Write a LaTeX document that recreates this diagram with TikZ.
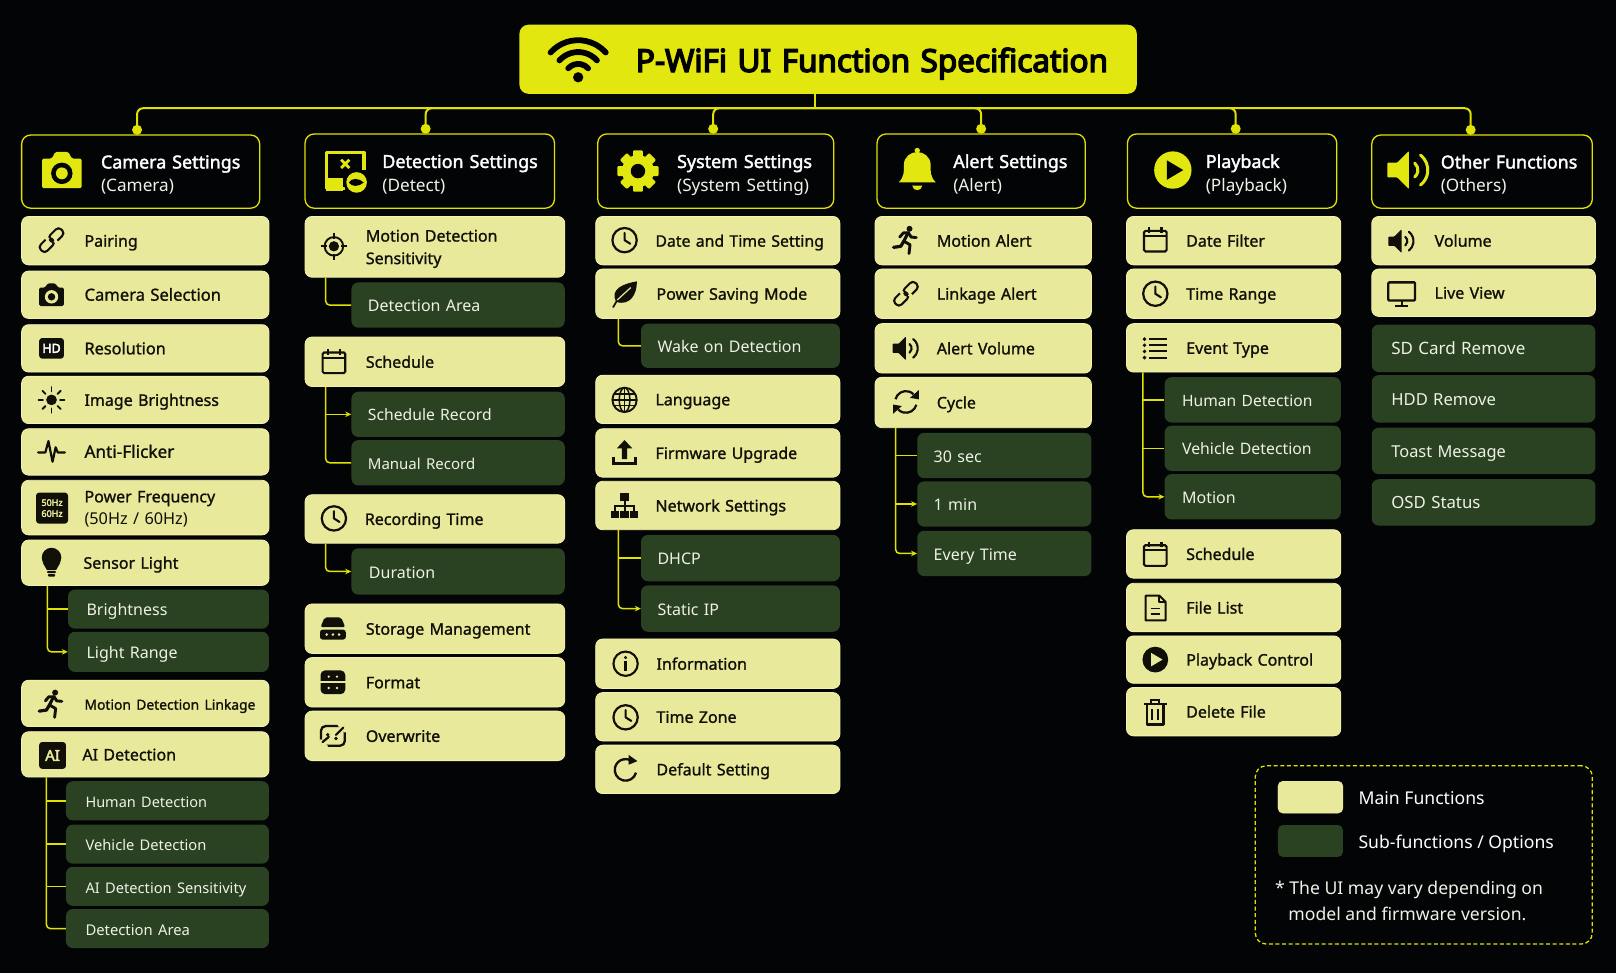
\documentclass[tikz,border=0pt]{standalone}
\usepackage{fontspec}
\usetikzlibrary{arrows.meta,calc}
\setmainfont{Noto Sans}
\newfontfamily\medf[FakeBold=1.2]{Noto Sans}
\newfontfamily\semif[FakeBold=2]{Noto Sans}
\newfontfamily\boldf[FakeBold=3]{Noto Sans}
\newfontfamily\titlef[FakeBold=4.5]{Noto Sans}
\definecolor{bgc}{HTML}{030406}
\definecolor{ylw}{HTML}{E2E80F}
\definecolor{linec}{HTML}{E0E200}
\definecolor{mainc}{HTML}{E9E99B}
\definecolor{mainedge}{HTML}{F3F3AE}
\definecolor{subc}{HTML}{2A4221}
\definecolor{subt}{HTML}{EEF2E6}
\definecolor{inkc}{HTML}{101008}
\def\U{1.0306}
\tikzset{
 x=1.0306pt,y=-1.0306pt,
 rowbase/.style={rectangle,rounded corners=7pt,inner xsep=0pt,inner ysep=0pt,align=left},
 mainbox/.style={rowbase,fill=mainc,draw=mainedge,line width=.8pt,text=inkc,font=\medf\fontsize{16}{22.5}\selectfont},
 subbox/.style={rowbase,fill=subc,text=subt,font=\fontsize{16}{22}\selectfont},
 headbox/.style={rowbase,draw=linec,line width=1.3pt,fill=bgc,text=white,rounded corners=9pt,font=\fontsize{17.9}{23.5}\selectfont},
 titlebox/.style={rowbase,fill=ylw,text=black,rounded corners=9pt,font=\titlef\fontsize{31.5}{36}\selectfont},
 conn/.style={draw=linec,line width=1.5pt,rounded corners=4pt},
 arr/.style={conn,-{Stealth[length=6pt,width=5.5pt]}},
 busline/.style={draw=linec,line width=2pt,rounded corners=6pt},
 busdot/.style={circle,fill=linec,minimum size=10pt,inner sep=0pt},
 legendbox/.style={rectangle,draw=linec,line width=1.3pt,dash pattern=on 4pt off 2.6pt,rounded corners=11pt,inner sep=0pt},
 swatch/.style={rowbase,inner sep=0pt,rounded corners=5pt},
 legtext/.style={text=white,anchor=west,inner sep=0pt,font=\fontsize{17.6}{22}\selectfont},
 % ---------- icons
 icCam/.pic={\fill[rounded corners=1.5pt] (-12,-7)--(-6,-7)--(-4,-11)--(4,-11)--(6,-7)--(12,-7)--(12,11)--(-12,11)--cycle;
   \fill[cutc] (0,2) circle (6.5); \fill (0,2) circle (3.6);},
 icLink/.pic={\begin{scope}[rotate=45,line width=2.1pt]
   \draw[rounded corners=3.8pt] (-1,-4.4) rectangle (14,4.4);
   \draw[rounded corners=3.8pt] (-14,-4.4) rectangle (1,4.4);
   \draw[cutc,line width=3.4pt] (-2,-6) -- (-2,-2.5);\draw[cutc,line width=3.4pt] (2,6) -- (2,2.5);
   \end{scope}},
 icHD/.pic={\fill[rounded corners=3pt] (-12,-10) rectangle (12,10);
   \node[text=white,font=\boldf\fontsize{12.5}{13}\selectfont,inner sep=0pt] (hdtext) at (0,0) {HD};},
 icSun/.pic={\fill (0,0) circle (5.2);
   \foreach \a in {0,45,...,315}{\draw[line width=1.9pt,line cap=round] (\a:8.3)--(\a:12.5);}},
 icPulse/.pic={\draw[line width=2.2pt,line join=round,line cap=round] (-13,1)--(-6,1)--(-3,-10)--(1,10)--(4,-4)--(6,1)--(13,1);},
 icBulb/.pic={\fill (0,-5) circle (9.5); \fill (-8.5,0)--(-4.5,7)--(4.5,7)--(8.5,0)--cycle;
   \fill[rounded corners=1pt] (-4.5,8) rectangle (4.5,10);\fill[rounded corners=1pt] (-3.5,11) rectangle (3.5,13.5);},
 icRun/.pic={\fill (3.5,-11) circle (2.9);
   \draw[line width=2.9pt,line join=round,line cap=round] (-6,-3)--(-2.5,-7)--(2.5,-7)--(5,-3)--(10,-2.5);
   \draw[line width=3.2pt,line join=round,line cap=round] (2,-7)--(-2,1)--(-5,6)--(-12,7);
   \draw[line width=2.9pt,line join=round,line cap=round] (-2,1)--(4,4.5)--(3,13);},
 icTarget/.pic={\draw[line width=1.9pt] (0,0) circle (9); \fill (0,0) circle (5);
   \draw[line width=1.9pt] (0,-13)--(0,-7) (0,13)--(0,7) (-13,0)--(-7,0) (13,0)--(7,0);},
 icCal/.pic={\draw[line width=2.1pt,rounded corners=1.5pt] (-11,-9) rectangle (11,11);
   \draw[line width=2.1pt] (-11,-4)--(11,-4);
   \draw[line width=2.1pt] (-6,-12.5)--(-6,-7) (6,-12.5)--(6,-7);},
 icClock/.pic={\draw[line width=2.2pt] (0,0) circle (11.8);
   \draw[line width=2.1pt,line join=round,line cap=round] (0,-7)--(0,0)--(5.5,3.5);},
 icStore/.pic={\fill[rounded corners=2pt] (-8,-11)--(8,-11)--(12,-1.5)--(-12,-1.5)--cycle;
   \fill[rounded corners=2.5pt] (-12.5,1) rectangle (12.5,10.5);
   \foreach \p in {-6,0,6}{\fill[cutc] (\p,5.7) circle (1.4);}},
 icFormat/.pic={\fill[rounded corners=4.5pt] (-12,-11.5) rectangle (12,11.5);
   \draw[cutc,line width=1.6pt] (-13,0)--(13,0);
   \foreach \p in {-4,4}{\fill[cutc] (\p,-5.5) circle (1.3);\fill[cutc] (\p,5.5) circle (1.3);}},
 icOver/.pic={\draw[line width=2.3pt,rounded corners=4.5pt] (-11.5,-9.5) rectangle (11.5,9.5);
   \draw[cutc,line width=4pt] (6,-11.5)--(13,-4.5); \draw[cutc,line width=4pt] (-6,11.5)--(-13,4.5);
   \draw[line width=2.2pt,line cap=round] (3,-1)--(10,-8); \fill (3,2.5) circle (1.8);
   \fill (-5,-1) circle (1.8); \draw[line width=2.2pt,line cap=round] (-4,1)--(-10,6);},
 icLeaf/.pic={\fill (-8,8) .. controls (-15,-5) and (0,-10) .. (12,-12) .. controls (12,0) and (6,12) .. (-8,8) -- cycle;
   \draw[line width=1.7pt,line cap=round] (-11,13)--(-7,6);
   \draw[cutc,line width=1.2pt] (-7,6)--(6,-6);},
 icGlobe/.pic={\draw[line width=1.9pt] (0,0) circle (11.8);
   \draw[line width=1.5pt] (0,0) ellipse (5.2 and 11.8);
   \draw[line width=1.5pt] (0,-11.8)--(0,11.8) (-11.8,0)--(11.8,0) (-10.2,-5.6)--(10.2,-5.6) (-10.2,5.6)--(10.2,5.6);},
 icUp/.pic={\fill (0,-13)--(7.5,-5)--(2.6,-5)--(2.6,5.5)--(-2.6,5.5)--(-2.6,-5)--(-7.5,-5)--cycle;
   \draw[line width=2.8pt] (-10.5,3)--(-10.5,10)--(10.5,10)--(10.5,3);},
 icNet/.pic={\fill (-4,-12.5) rectangle (4,-5); \fill (-13,4.5) rectangle (-5,12); \fill (-4,4.5) rectangle (4,12); \fill (5,4.5) rectangle (13,12);
   \draw[line width=2pt] (0,-5)--(0,4.5) (-9,4.5)--(-9,-0.5)--(9,-0.5)--(9,4.5);},
 icInfo/.pic={\draw[line width=2.1pt] (0,0) circle (11.8); \fill (0,-6) circle (1.6); \fill (-1.3,-2.5) rectangle (1.3,7);},
 icReset/.pic={\draw[line width=2.3pt] (15:10.5) arc[start angle=15,end angle=305,radius=10.5];
   \fill (3,-14.5)--(11.5,-8.5)--(3,-5)--cycle;},
 icCycle/.pic={\draw[line width=2.2pt] (195:10.5) arc[start angle=195,end angle=315,radius=10.5];
   \draw[line width=2.2pt] (15:10.5) arc[start angle=15,end angle=135,radius=10.5];
   \fill (12.5,-11.5)--(12.5,-2.5)--(4,-4)--cycle; \fill (-12.5,11.5)--(-12.5,2.5)--(-4,4)--cycle;},
 icSpeak/.pic={\fill[rounded corners=.8pt] (-13,-4.5)--(-7,-4.5)--(0,-11.5)--(0,11.5)--(-7,4.5)--(-13,4.5)--cycle;
   \draw[line width=#1pt,line cap=round] (-50:5.5) arc[start angle=-50,end angle=50,radius=5.5];
   \draw[line width=#1pt,line cap=round] (-52:11.5) arc[start angle=-52,end angle=52,radius=11.5];},
 icMon/.pic={\draw[line width=2.3pt,rounded corners=1pt] (-13,-11) rectangle (13,6.5);
   \draw[line width=2.3pt] (0,6.5)--(0,11.5); \draw[line width=2.3pt] (-6,12)--(6,12);},
 icList/.pic={\foreach \q in {-9,-3,3,9}{\fill (-10.5,\q) circle (1.9); \draw[line width=1.9pt] (-6,\q)--(11.5,\q);}},
 icDoc/.pic={\draw[line width=2pt,line join=round] (-9.5,-12)--(4,-12)--(10,-6)--(10,12)--(-9.5,12)--cycle;
   \draw[line width=2pt,line join=round] (4,-12)--(4,-6)--(10,-6);
   \draw[line width=1.8pt] (-4.5,0.5)--(5,0.5) (-4.5,5.5)--(5,5.5);},
 icPlay/.pic={\fill (0,0) circle (12.5); \fill[cutc] (-4,-6.5)--(7,0)--(-4,6.5)--cycle;},
 icTrash/.pic={\draw[line width=2.1pt] (-11,-8)--(11,-8);
   \draw[line width=2pt] (-4,-8)--(-4,-12)--(4,-12)--(4,-8);
   \draw[line width=2.2pt,line join=round] (-8,-8)--(-8,12)--(8,12)--(8,-8);
   \draw[line width=2pt] (-2.8,-3)--(-2.8,8) (2.8,-3)--(2.8,8);},
 icBell/.pic={\fill (0,-19) circle (2.6);
   \fill (-18,12) .. controls (-12,6) and (-13,0) .. (-13,-5) .. controls (-13,-13) and (-6,-17.5) .. (0,-17.5) .. controls (6,-17.5) and (13,-13) .. (13,-5) .. controls (13,0) and (12,6) .. (18,12) -- cycle;
   \fill (-5,15) .. controls (-4,21) and (4,21) .. (5,15) -- cycle;},
 icGear/.pic={\foreach \a in {0,45,...,315}{\fill[rotate=\a,rounded corners=1pt] (-4.8,-20) rectangle (4.8,0);}
   \fill (0,0) circle (15.5); \fill[cutc] (0,0) circle (7);},
 icDetect/.pic={\draw[line width=3.4pt,line join=round] (18,-1)--(18,-18)--(-18,-18)--(-18,17)--(0,17);
   \fill (-19,7) rectangle (-2,19);
   \draw[line width=2.8pt] (-4,-11)--(4,-3) (-4,-3)--(4,-11);
   \fill[cutc] (11,11) circle (12.5); \fill (11,11) circle (10);
   \fill[cutc] (3.5,11) .. controls (6,6.5) and (13,6.5) .. (18,11) .. controls (13,15.5) and (6,15.5) .. (3.5,11) -- cycle;},
 icWifi/.pic={\foreach \r in {13,24.5,36}{\draw[line width=5.8pt,line cap=round] (0,15)++(222:\r) arc[start angle=222,end angle=318,radius=\r];}
   \fill (0,15) circle (5);},
}
% #1 style #2 name #3 x1 #4 y1 #5 x2 #6 y2 #7 text x #8 text
\newcommand{\rowbox}[8]{%
 \pgfmathsetmacro\bw{(#5-#3)*\U}\pgfmathsetmacro\bh{(#6-#4)*\U}\pgfmathsetmacro\lp{(#7-#3)*\U}%
 \pgfmathsetmacro\cx{(#3+#5)/2}\pgfmathsetmacro\cy{(#4+#6)/2}%
 \node[#1,text width=\bw pt,minimum height=\bh pt] (#2) at (\cx,\cy)
  {\leftskip=\lp pt\relax\vrule height .95em width 0pt #8\vrule depth .25em width 0pt\par};}
\newcommand{\mi}[7]{\rowbox{mainbox}{#1}{#2}{#3}{#4}{#5}{#6}{\vrule height 1.0em width 0pt #7}}
\newcommand{\si}[7]{\rowbox{subbox}{#1}{#2}{#3}{#4}{#5}{#6}{\vrule height 1.08em width 0pt #7}}
\newcommand{\fs}[1]{\fontsize{#1}{16}\selectfont}
% item icons / header icons
\newcommand{\ici}[3]{{\colorlet{ink}{inkc}\colorlet{cutc}{mainc}\pic[color=ink] at (#2,#3) {#1};}}
\newcommand{\ich}[4]{{\colorlet{ink}{ylw}\colorlet{cutc}{bgc}\pic[color=ink,scale=#4] at (#2,#3) {#1};}}
\newcommand{\hb}[8]{\rowbox{headbox}{#1}{#2}{#3}{#4}{#5}{#6}{\vrule height 1.21em width 0pt {\semif #7}\\{\color{subt}\fontsize{17.2}{23.5}\selectfont #8}}}
\begin{document}
\begin{tikzpicture}
\useasboundingbox (0,0) rectangle (1568,944);
\fill[bgc] (0,0) rectangle (1568,944);
% title
\rowbox{titlebox}{title}{504}{24}{1103}{91}{617}{\vrule height 1.05em width 0pt P-WiFi UI Function Specification}
{\colorlet{ink}{black}\colorlet{cutc}{ylw}\pic[color=ink] at (561,60) {icWifi};}
% bus
\coordinate (busC) at (791,105);
\node[busdot] (dot1) at (133,126) {};
\node[busdot] (dot2) at (413,125) {};
\node[busdot] (dot3) at (692,125) {};
\node[busdot] (dot4) at (952,125) {};
\node[busdot] (dot5) at (1199,125) {};
\node[busdot] (dot6) at (1427,126) {};
\draw[busline] (title.south -| busC) -- (busC);
\foreach \d in {dot1,dot2,dot3,dot4,dot5,dot6}{\draw[busline] (busC) -| (\d.center);}
% headers
\hb{h1}{21}{131}{252}{202}{98}{Camera Settings}{(Camera)}
\hb{h2}{296}{130}{538}{202}{371}{Detection Settings}{(Detect)}
\hb{h3}{580}{130}{809}{202}{657}{System Settings}{(System Setting)}
\hb{h4}{851}{130}{1053}{202}{925}{Alert Settings}{(Alert)}
\hb{h5}{1094}{130}{1297}{202}{1170}{Playback}{(Playback)}
\hb{h6}{1331}{131}{1545}{202}{1398}{Other Functions}{(Others)}
\ich{icCam}{60}{165}{1.6}
\ich{icDetect}{335}{166}{1}
\ich{icGear}{619}{166}{1}
\ich{icBell}{890}{165}{1}
\ich{icPlay}{1138}{165}{1.45}
\ich{icSpeak=3.0}{1367}{165}{1.6}
% column 1
\mi{a1}{21}{210}{261}{257}{82}{Pairing}\ici{icLink}{50}{233}
\mi{a2}{21}{263}{261}{309}{82}{\fs{16.6}Camera Selection}\ici{icCam}{50}{286}
\mi{a3}{21}{315}{261}{361}{82}{\fs{16.3}Resolution}\ici{icHD}{50}{338}
\mi{a4}{21}{365}{261}{411}{82}{Image Brightness}\ici{icSun}{50}{388}
\mi{a5}{21}{416}{261}{461}{82}{\fs{17.2}Anti-Flicker}\ici{icPulse}{50}{438}
\mi{a6}{21}{466}{261}{519}{82}{Power Frequency\\{\normalfont\fontsize{16.3}{21}\selectfont (50Hz / 60Hz)}}
{\colorlet{ink}{inkc}\colorlet{cutc}{mainc}\fill[ink,rounded corners=3pt] (35,478) rectangle (66,508);
 \node[text=mainc,font=\boldf\fontsize{9}{11}\selectfont,align=center,inner sep=0pt] (fz) at (50.5,493) {50Hz\\60Hz};}
\mi{a7}{21}{524}{261}{568}{81}{Sensor Light}\ici{icBulb}{50}{546}
\si{a7a}{66}{572}{261}{610}{84}{Brightness}
\si{a7b}{66}{613}{261}{652}{84}{Light Range}
\mi{a8}{21}{660}{261}{705}{82}{\fs{13.85}Motion Detection Linkage}\ici{icRun}{50}{683}
\mi{a9}{21}{710}{261}{754}{80}{AI Detection}
{\fill[inkc,rounded corners=3pt] (38,720) rectangle (64,746);
 \node[text=mainc,font=\boldf\fontsize{15}{16}\selectfont,inner sep=0pt] (aitext) at (51,733) {AI};}
\si{a9a}{64}{758}{261}{796}{83}{\fs{14.5}Human Detection}
\si{a9b}{64}{800}{261}{838}{83}{\fs{14.7}Vehicle Detection}
\si{a9c}{64}{841}{261}{879}{83}{\fs{14.65}AI Detection Sensitivity}
\si{a9d}{64}{882}{261}{920}{83}{\fs{14.8}Detection Area}
\coordinate (t1) at (46,0); \coordinate (t1b) at (45,0);
\draw[conn] (a7a.west -| t1) -- (a7a.west);
\draw[arr] (a7.south -| t1) |- (a7b.west);
\draw[conn] (a9a.west -| t1b) -- (a9a.west);
\draw[conn] (a9b.west -| t1b) -- (a9b.west);
\draw[conn] (a9c.west -| t1b) -- (a9c.west);
\draw[conn] (a9.south -| t1b) |- (a9d.west);
% column 2
\mi{b1}{296}{210}{548}{269}{355}{Motion Detection\\Sensitivity}\ici{icTarget}{324}{239}
\si{b1a}{341}{274}{548}{318}{357}{Detection Area}
\mi{b2}{296}{327}{548}{375}{355}{Schedule}\ici{icCal}{324}{351}
\si{b2a}{341}{380}{548}{424}{357}{\fs{15.7}Schedule Record}
\si{b2b}{341}{427}{548}{471}{357}{\fs{15}Manual Record}
\mi{b3}{296}{480}{548}{527}{354}{Recording Time}\ici{icClock}{324}{503}
\si{b3a}{341}{532}{548}{577}{358}{Duration}
\mi{b4}{296}{586}{548}{634}{355}{Storage Management}\ici{icStore}{323}{610}
\mi{b5}{296}{638}{548}{686}{355}{Format}\ici{icFormat}{323}{662}
\mi{b6}{296}{690}{548}{738}{355}{Overwrite}\ici{icOver}{323}{714}
\coordinate (t2) at (316,0);
\draw[conn] (b1.south -| t2) |- (b1a.west);
\draw[arr] (b2a.west -| t2) -- (b2a.west);
\draw[conn] (b2.south -| t2) |- (b2b.west);
\draw[arr] (b3.south -| t2) |- (b3a.west);
% column 3
\mi{c1}{578}{210}{815}{257}{636}{\fs{15.8}Date and Time Setting}\ici{icClock}{606}{233}
\mi{c2}{578}{261}{815}{309}{637}{Power Saving Mode}\ici{icLeaf}{606}{285}
\si{c2a}{622}{314}{815}{357}{638}{Wake on Detection}
\mi{c3}{578}{364}{815}{411}{636}{Language}\ici{icGlobe}{606}{388}
\mi{c4}{578}{416}{815}{463}{636}{Firmware Upgrade}\ici{icUp}{606}{440}
\mi{c5}{578}{467}{815}{514}{636}{Network Settings}\ici{icNet}{606}{491}
\si{c5a}{622}{519}{815}{564}{638}{DHCP}
\si{c5b}{622}{568}{815}{613}{638}{Static IP}
\mi{c6}{578}{620}{815}{668}{637}{Information}\ici{icInfo}{607}{644}
\mi{c7}{578}{672}{815}{719}{637}{Time Zone}\ici{icClock}{607}{696}
\mi{c8}{578}{723}{815}{770}{637}{Default Setting}\ici{icReset}{607}{747}
\coordinate (t3) at (600,0);
\draw[conn] (c2.south -| t3) |- (c2a.west);
\draw[conn] (c5a.west -| t3) -- (c5a.west);
\draw[arr] (c5.south -| t3) |- (c5b.west);
% column 4
\mi{d1}{849}{210}{1059}{257}{909}{Motion Alert}\ici{icRun}{879}{233}
\mi{d2}{849}{261}{1059}{309}{909}{Linkage Alert}\ici{icLink}{879}{285}
\mi{d3}{849}{314}{1059}{362}{909}{Alert Volume}\ici{icSpeak=2.1}{879}{338}
\mi{d4}{849}{366}{1059}{415}{909}{Cycle}\ici{icCycle}{879}{390}
\si{d4a}{890}{420}{1059}{464}{906}{30 sec}
\si{d4b}{890}{467}{1059}{511}{906}{1 min}
\si{d4c}{890}{515}{1059}{559}{906}{Every Time}
\coordinate (t4) at (869,0);
\draw[conn] (d4a.west -| t4) -- (d4a.west);
\draw[arr] (d4b.west -| t4) -- (d4b.west);
\draw[arr] (d4.south -| t4) |- (d4c.west);
% column 5
\mi{e1}{1093}{210}{1301}{257}{1151}{Date Filter}\ici{icCal}{1121}{233}
\mi{e2}{1093}{261}{1301}{309}{1151}{Time Range}\ici{icClock}{1121}{285}
\mi{e3}{1093}{314}{1301}{361}{1151}{Event Type}\ici{icList}{1121}{338}
\si{e3a}{1130}{366}{1301}{410}{1147}{\fs{15.6}Human Detection}
\si{e3b}{1130}{413}{1301}{457}{1147}{\fs{15.8}Vehicle Detection}
\si{e3c}{1130}{460}{1301}{504}{1147}{Motion}
\mi{e4}{1093}{514}{1301}{561}{1151}{Schedule}\ici{icCal}{1121}{538}
\mi{e5}{1093}{566}{1301}{613}{1151}{File List}\ici{icDoc}{1121}{590}
\mi{e6}{1093}{617}{1301}{663}{1151}{Playback Control}\ici{icPlay}{1121}{640}
\mi{e7}{1093}{667}{1301}{714}{1151}{Delete File}\ici{icTrash}{1121}{691}
\coordinate (t5) at (1109,0);
\draw[conn] (e3a.west -| t5) -- (e3a.west);
\draw[conn] (e3b.west -| t5) -- (e3b.west);
\draw[arr] (e3.south -| t5) |- (e3c.west);
% column 6
\mi{f1}{1331}{210}{1548}{257}{1392}{Volume}\ici{icSpeak=2.1}{1360}{234}
\mi{f2}{1331}{261}{1548}{307}{1392}{Live View}\ici{icMon}{1360}{285}
\si{f3}{1331}{315}{1548}{361}{1350}{\fs{17}SD Card Remove}
\si{f4}{1331}{364}{1548}{410}{1350}{\fs{16.6}HDD Remove}
\si{f5}{1331}{415}{1548}{460}{1350}{\fs{16.4}Toast Message}
\si{f6}{1331}{465}{1548}{510}{1350}{\fs{16.8}OSD Status}
% legend
\pgfmathsetmacro\lw{(1545-1218)*\U}\pgfmathsetmacro\lh{(916-743)*\U}
\node[legendbox,minimum width=\lw pt,minimum height=\lh pt] (legend) at (1381.5,829.5) {};
\pgfmathsetmacro\sw{63*\U}\pgfmathsetmacro\sh{31*\U}
\node[swatch,fill=mainc,draw=mainedge,minimum width=\sw pt,minimum height=\sh pt] (swmain) at (1271.5,773.5) {};
\node[swatch,fill=subc,minimum width=\sw pt,minimum height=\sh pt] (swsub) at (1271.5,816) {};
\node[legtext] (lgmain) at (1318,774) {Main Functions};
\node[legtext] (lgsub) at (1318,818.5) {Sub-functions / Options};
\node[legtext,text=subt] (note1) at (1237,863.5) {* The UI may vary depending on};
\node[legtext,text=subt] (note2) at (1250,886.5) {model and firmware version.};
\end{tikzpicture}
\end{document}
